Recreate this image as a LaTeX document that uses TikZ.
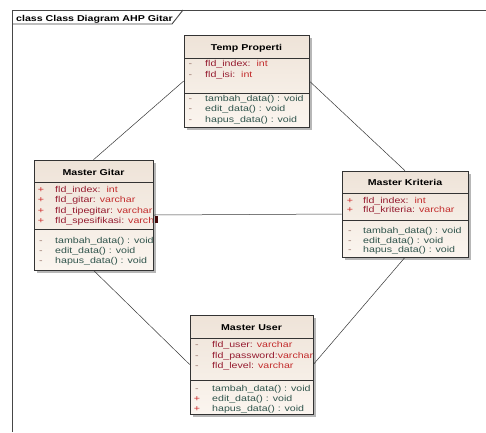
\documentclass[tikz,border=0pt]{standalone}
\usepackage{fontspec}
\usepackage{tikz}
\usetikzlibrary{shadows}
\newfontfamily\umlfont{Liberation Sans}[FakeStretch=1.25]
\definecolor{framegrey}{RGB}{70,70,70}
\definecolor{linegrey}{RGB}{55,55,55}
\definecolor{boxtop}{RGB}{238,227,216}
\definecolor{boxbottom}{RGB}{251,245,239}
\definecolor{attrname}{RGB}{150,28,48}
\definecolor{attrtype}{RGB}{195,45,45}
\definecolor{opgreen}{RGB}{48,84,76}
\definecolor{visplus}{RGB}{205,40,40}
\definecolor{visminus}{RGB}{150,115,105}
\definecolor{handlered}{RGB}{70,10,10}
\tikzset{
  base/.style={font=\umlfont\fontsize{8.5}{10}\selectfont, inner sep=0pt},
  cls/.style={rectangle, draw=black!80, line width=0.6pt, top color=boxtop, bottom color=boxbottom,
    drop shadow={shadow xshift=2.5pt, shadow yshift=-2.5pt, fill=black!40, opacity=0.7}},
  ttl/.style={base, font=\umlfont\fontsize{8.5}{10}\selectfont\bfseries, anchor=base},
  vis/.style={base, anchor=base},
  attr/.style={base, anchor=base west, text=attrname},
  op/.style={base, anchor=base west, text=opgreen},
  sep/.style={draw=black!80, line width=0.6pt},
  frame/.style={draw=framegrey, line width=0.9pt},
  assoc/.style={draw=linegrey, line width=0.5pt},
  handle/.style={rectangle, fill=handlered, minimum width=3pt, minimum height=7pt, inner sep=0pt},
}
\newcommand{\vpub}{\textcolor{visplus}{+}}
\newcommand{\vprv}{\textcolor{visminus}{-}}
\newcommand{\vtype}[1]{\textcolor{attrtype}{#1}}

\begin{document}
\begin{tikzpicture}[x=1pt,y=-1pt]
  \useasboundingbox[fill=white] (0,0) rectangle (486,432);
  % frame and its tab
  \draw[frame] (486,10) -- (12,10) -- (12,432);
  \draw[frame] (12,24) -- (172,24) -- (183,10);
  \node[ttl, anchor=base west] (frm) at (16,21) {class Class Diagram AHP Gitar};

  % temp properti
  \node[cls, minimum width=125pt, minimum height=92pt] (tp) at (246.5,81) {};
  \node[ttl] (tp-t) at (246.5,50.5) {Temp Properti};
  \draw[sep] (184,58) -- (309,58) (184,93) -- (309,93);
  \foreach \y/\m/\n [count=\i] in {66.5/\vprv/{fld\_index:\ \ \vtype{int}}, 77/\vprv/{fld\_isi:\ \ \vtype{int}}}{
    \node[vis] (tp-v\i) at (190.5,\y) {\m};
    \node[attr] (tp-a\i) at (205,\y) {\n};
  }
  \foreach \y/\m/\n [count=\i] in {101/\vprv/{tambah\_data() : void}, 111.5/\vprv/{edit\_data() : void}, 122/\vprv/{hapus\_data() : void}}{
    \node[vis] (tp-w\i) at (190.5,\y) {\m};
    \node[op] (tp-o\i) at (205,\y) {\n};
  }

  % master gitar
  \node[cls, minimum width=119pt, minimum height=110pt] (mg) at (93.5,215) {};
  \node[ttl] (mg-t) at (93.5,175.5) {Master Gitar};
  \draw[sep] (34,182) -- (153,182) (34,229) -- (153,229);
  \begin{scope}
    \clip (34,182) rectangle (152.6,229);
    \foreach \y/\m/\n [count=\i] in {192/\vpub/{fld\_index:\ \ \vtype{int}}, 202.5/\vpub/{fld\_gitar: \vtype{varchar}}, 213/\vpub/{fld\_tipegitar: \vtype{varchar}}, 223.5/\vpub/{fld\_spesifikasi: \vtype{varchar}}}{
      \node[vis] (mg-v\i) at (41,\y) {\m};
      \node[attr] (mg-a\i) at (55,\y) {\n};
    }
  \end{scope}
  \foreach \y/\m/\n [count=\i] in {243/\vprv/{tambah\_data() : void}, 253/\vprv/{edit\_data() : void}, 263/\vprv/{hapus\_data() : void}}{
    \node[vis] (mg-w\i) at (41,\y) {\m};
    \node[op] (mg-o\i) at (55,\y) {\n};
  }

  % master kriteria
  \node[cls, minimum width=126pt, minimum height=86pt] (mk) at (405,214) {};
  \node[ttl] (mk-t) at (405,185.5) {Master Kriteria};
  \draw[sep] (342,193) -- (468,193) (342,220) -- (468,220);
  \foreach \y/\m/\n [count=\i] in {203/\vpub/{fld\_index:\ \ \vtype{int}}, 212.5/\vpub/{fld\_kriteria: \vtype{varchar}}}{
    \node[vis] (mk-v\i) at (350,\y) {\m};
    \node[attr] (mk-a\i) at (363,\y) {\n};
  }
  \foreach \y/\m/\n [count=\i] in {233.5/\vprv/{tambah\_data() : void}, 243/\vprv/{edit\_data() : void}, 252.5/\vprv/{hapus\_data() : void}}{
    \node[vis] (mk-w\i) at (350,\y) {\m};
    \node[op] (mk-o\i) at (363,\y) {\n};
  }

  % master user
  \node[cls, minimum width=123pt, minimum height=99pt] (mu) at (251.5,364.5) {};
  \node[ttl] (mu-t) at (251.5,330.5) {Master User};
  \draw[sep] (190,338) -- (313,338) (190,380) -- (313,380);
  \foreach \y/\m/\n [count=\i] in {347.5/\vprv/{fld\_user: \vtype{varchar}}, 358/\vprv/{fld\_password:\vtype{varchar}}, 368.5/\vprv/{fld\_level: \vtype{varchar}}}{
    \node[vis] (mu-v\i) at (197,\y) {\m};
    \node[attr] (mu-a\i) at (212,\y) {\n};
  }
  \foreach \y/\m/\n [count=\i] in {391/\vprv/{tambah\_data() : void}, 401/\vpub/{edit\_data() : void}, 411/\vpub/{hapus\_data() : void}}{
    \node[vis] (mu-w\i) at (197,\y) {\m};
    \node[op] (mu-o\i) at (212,\y) {\n};
  }

  % associations
  \draw[assoc] (tp.west) -- (mg.north);
  \draw[assoc] (tp.east) -- (mk.north);
  \draw[assoc] (mg.south) -- (mu.west);
  \draw[assoc] (mk.south) -- (mu.east);
  \draw[assoc] (mg.east) -- (mk.west);
  \node[handle, anchor=north west] (sel) at ([xshift=1pt, yshift=-1pt]mg.east) {};
\end{tikzpicture}
\end{document}
